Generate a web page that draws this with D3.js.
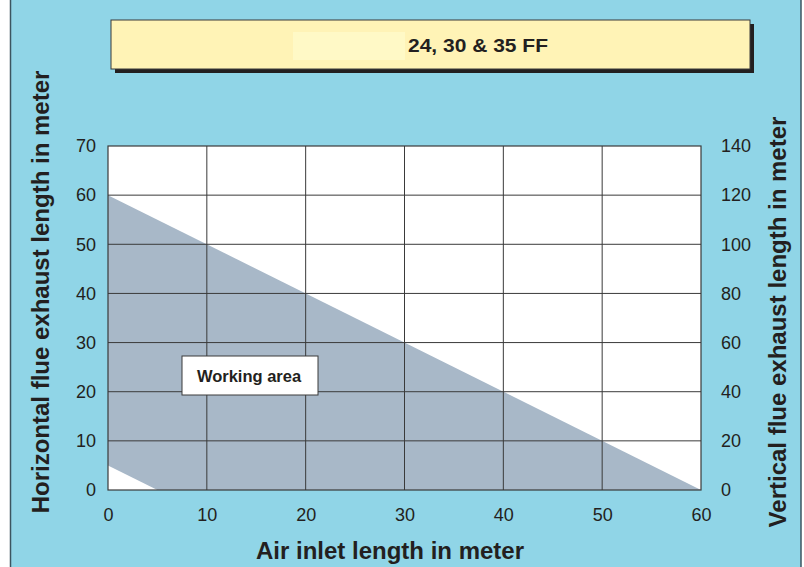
<!DOCTYPE html>
<head>
  <meta charset="utf-8">
  <title>24, 30 & 35 FF</title>
</head>
<style>
  body { margin: 0; background: #fff; }
  svg { display: block; font-family: "Liberation Sans", Arial, sans-serif; }
  .tick text { fill: #231f20; font-size: 18px; }
  .grid line { stroke: #3a3a3a; stroke-width: 1; }
  .axis-title { font-weight: bold; font-size: 24px; fill: #231f20; }
</style>
<body>
<svg id="chart" width="804" height="567"></svg>
<script src="https://cdn.jsdelivr.net/npm/d3@7"></script>
<script>
  // air inlet (x) vs horizontal flue exhaust (left y), vertical exhaust on right
  var xTicks = [0, 10, 20, 30, 40, 50, 60];
  var yLeftTicks = [0, 10, 20, 30, 40, 50, 60, 70];
  var yRightTicks = [0, 20, 40, 60, 80, 100, 120, 140];
  // working area polygon (air inlet, horizontal exhaust)
  var areaX = [0, 60, 5, 0];
  var areaY = [60, 0, 0, 5];
  var titleText = "24, 30 & 35 FF";
  var areaLabel = "Working area";

  var svg = d3.select('#chart');
  var pLeft = 108, pRight = 701, pTop = 146, pBottom = 490;

  var x = d3.scaleLinear().domain([0, 60]).range([pLeft, pRight]);
  var y = d3.scaleLinear().domain([0, 70]).range([pBottom, pTop]);
  var y2 = d3.scaleLinear().domain([0, 140]).range([pBottom, pTop]);

  function translate(a, b) { return 'translate(' + a + ',' + b + ')'; }

  // panel background
  svg.append('rect').attr('x', 10).attr('y', 0).attr('width', 791).attr('height', 567)
    .attr('fill', '#90d5e7');
  svg.append('line').attr('x1', 10.5).attr('x2', 10.5).attr('y1', 0).attr('y2', 567)
    .attr('stroke', '#3c5560').attr('stroke-width', 1.5);
  svg.append('line').attr('x1', 801).attr('x2', 801).attr('y1', 0).attr('y2', 567)
    .attr('stroke', '#3c5560').attr('stroke-width', 1.5);

  // title box with shadow
  svg.append('rect').attr('x', 115).attr('y', 24).attr('width', 639).attr('height', 49).attr('fill', '#231f20');
  svg.append('rect').attr('x', 111).attr('y', 20).attr('width', 639).attr('height', 49)
    .attr('fill', '#fff3b6').attr('stroke', '#3a3a3a').attr('stroke-width', 1);
  svg.append('rect').attr('x', 293).attr('y', 32).attr('width', 112).attr('height', 28).attr('fill', '#fff9c6');
  svg.append('text').attr('x', 408).attr('y', 52).attr('font-weight', 'bold').attr('font-size', 19)
    .attr('textLength', 140).attr('lengthAdjust', 'spacingAndGlyphs')
    .attr('fill', '#231f20').text(titleText);

  // plot background
  svg.append('rect').attr('x', pLeft).attr('y', pTop).attr('width', pRight - pLeft).attr('height', pBottom - pTop)
    .attr('fill', '#fff');

  var pts = areaX.map(function(d, i) { return [x(d), y(areaY[i])]; });
  svg.append('path').attr('d', d3.line()(pts) + 'Z').attr('fill', '#a8b8c8');

  // grid
  var grid = svg.append('g').attr('class', 'grid');
  grid.selectAll('.vx').data(xTicks.slice(1, -1)).enter().append('line')
    .attr('x1', d => x(d)).attr('x2', d => x(d)).attr('y1', pTop).attr('y2', pBottom);
  grid.selectAll('.hy').data(yLeftTicks.slice(1, -1)).enter().append('line')
    .attr('x1', pLeft).attr('x2', pRight).attr('y1', d => y(d)).attr('y2', d => y(d));

  svg.append('rect').attr('x', pLeft).attr('y', pTop).attr('width', pRight - pLeft).attr('height', pBottom - pTop)
    .attr('fill', 'none').attr('stroke', '#3a3a3a').attr('stroke-width', 1.2);

  // axes
  var xAxis = svg.append('g').attr('transform', translate(0, pBottom + 8))
    .call(d3.axisBottom(x).tickValues(xTicks).tickSize(0).tickPadding(10));
  var yAxis = svg.append('g').attr('transform', translate(pLeft - 12, 0))
    .call(d3.axisLeft(y).tickValues(yLeftTicks).tickSize(0).tickPadding(0));
  var yAxis2 = svg.append('g').attr('transform', translate(pRight + 20, 0))
    .call(d3.axisRight(y2).tickValues(yRightTicks).tickSize(0).tickPadding(0));
  [xAxis, yAxis, yAxis2].forEach(function(a) {
    a.select('.domain').remove();
    a.selectAll('text').attr('font-family', null).attr('font-size', null);
  });

  // working area label
  svg.append('rect').attr('x', 182).attr('y', 356).attr('width', 136).attr('height', 39)
    .attr('fill', '#fff').attr('stroke', '#3a3a3a').attr('stroke-width', 1);
  svg.append('text').attr('x', 249).attr('y', 382).attr('text-anchor', 'middle')
    .attr('font-weight', 'bold').attr('font-size', 16.5).attr('fill', '#231f20').text(areaLabel);

  // axis titles
  svg.append('text').attr('class', 'axis-title').attr('text-anchor', 'middle')
    .attr('transform', translate(49, 292) + ' rotate(-90)').text('Horizontal flue exhaust length in meter');
  svg.append('text').attr('class', 'axis-title').attr('text-anchor', 'middle')
    .attr('transform', translate(786, 322) + ' rotate(-90)').text('Vertical flue exhaust length in meter');
  svg.append('text').attr('class', 'axis-title').attr('text-anchor', 'middle')
    .attr('x', 390).attr('y', 559).text('Air inlet length in meter');
</script>
</body>
